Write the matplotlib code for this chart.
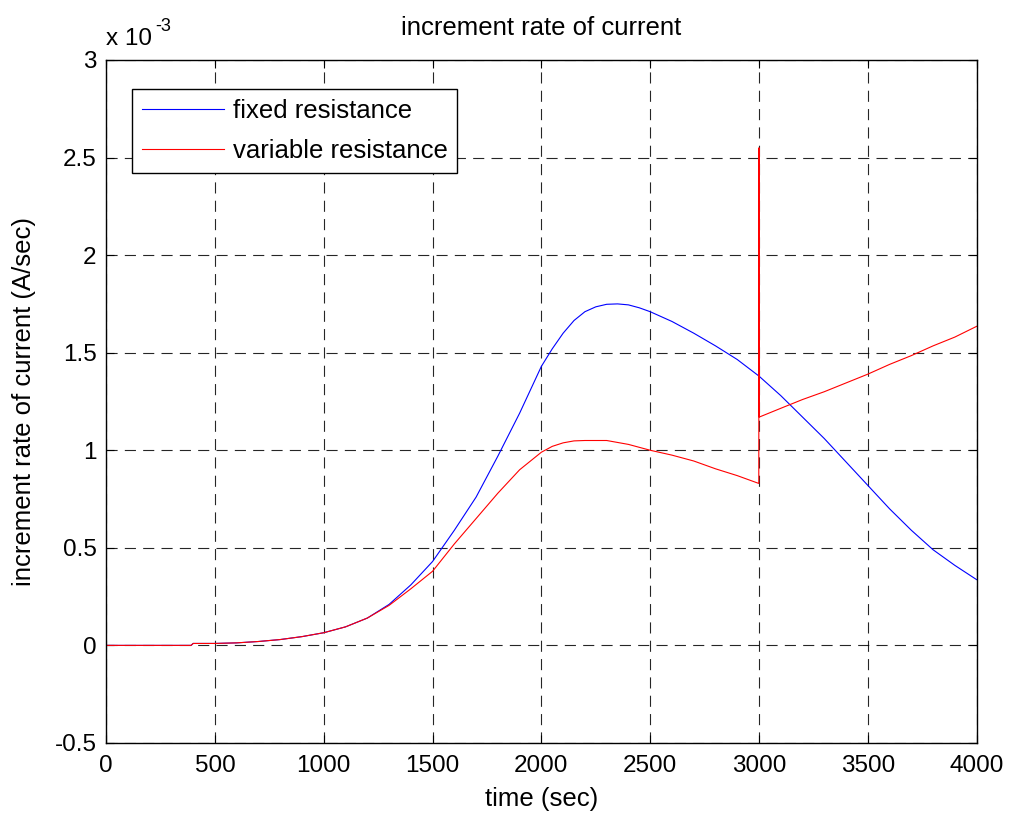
import matplotlib
matplotlib.use("Agg")
import matplotlib.pyplot as plt
import numpy as np

plt.rcParams['font.family'] = ['Liberation Sans', 'DejaVu Sans']

# time axis (sec)
t_fixed = [0, 100, 200, 300, 390, 400, 500, 600, 700, 800, 900, 1000, 1100, 1200, 1300,
           1400, 1500, 1600, 1700, 1800, 1900, 2000, 2050, 2100, 2150, 2200, 2250, 2300,
           2350, 2400, 2450, 2500, 2600, 2700, 2800, 2900, 3000, 3100, 3200, 3300, 3400,
           3500, 3600, 3700, 3800, 3900, 4000]
# increment rate (x 1e-3 A/sec)
fixed_res = [0, 0, 0, 0, 0, 0.01, 0.01, 0.013, 0.02, 0.03, 0.045, 0.065, 0.095, 0.14, 0.21,
             0.31, 0.43, 0.59, 0.76, 0.97, 1.19, 1.43, 1.52, 1.60, 1.665, 1.71, 1.735, 1.748,
             1.75, 1.745, 1.73, 1.71, 1.66, 1.60, 1.535, 1.465, 1.38, 1.28, 1.17, 1.06, 0.94,
             0.82, 0.70, 0.59, 0.49, 0.41, 0.337]

t_var = [0, 100, 200, 300, 390, 400, 500, 600, 700, 800, 900, 1000, 1100, 1200, 1300,
         1400, 1500, 1600, 1700, 1800, 1900, 2000, 2050, 2100, 2150, 2200, 2300, 2400, 2500,
         2600, 2700, 2800, 2900, 2999, 3000, 3001, 3100, 3200, 3300, 3400, 3500, 3600, 3700,
         3800, 3900, 4000]
var_res = [0, 0, 0, 0, 0, 0.01, 0.01, 0.013, 0.02, 0.03, 0.045, 0.065, 0.095, 0.14, 0.205,
           0.29, 0.38, 0.52, 0.65, 0.78, 0.90, 0.99, 1.02, 1.038, 1.048, 1.05, 1.05, 1.03, 1.00,
           0.975, 0.945, 0.905, 0.87, 0.83, 2.55, 1.17, 1.215, 1.26, 1.30, 1.345, 1.39, 1.44,
           1.485, 1.535, 1.58, 1.635]

x_ticks = [0, 500, 1000, 1500, 2000, 2500, 3000, 3500, 4000]
y_ticks = [-0.5, 0, 0.5, 1, 1.5, 2, 2.5, 3]
y_tick_labels = ['-0.5', '0', '0.5', '1', '1.5', '2', '2.5', '3']

fig = plt.figure(figsize=(10.11, 8.16), dpi=100)
ax = fig.add_axes([0.105, 0.0895, 0.861, 0.837])

ax.plot(t_fixed, fixed_res, color=(0, 0, 1), lw=0.8, label='fixed resistance')
ax.plot(t_var, var_res, color=(1, 0, 0), lw=0.8, label='variable resistance')

ax.set_xlim(0, 4000)
ax.set_ylim(-0.5, 3)
ax.set_xticks(x_ticks)
ax.set_xticklabels([str(v) for v in x_ticks])
ax.set_yticks(y_ticks)
ax.set_yticklabels(y_tick_labels)

ax.tick_params(direction='in', length=6, width=0.8, top=True, right=True,
               labelsize=17.5, pad=7)
ax.tick_params(axis='x', pad=9)
for s in ax.spines.values():
    s.set_linewidth(1.0)

ax.grid(True, color='k', linestyle=(0, (10, 6.5)), linewidth=0.8, alpha=0.85)

ax.set_title('increment rate of current', fontsize=18.5, pad=18)
ax.set_xlabel('time (sec)', fontsize=18.5, labelpad=7)
ax.set_ylabel('increment rate of current (A/sec)', fontsize=18.5, labelpad=13)

ax.text(0.0, 1.022, 'x 10', transform=ax.transAxes, fontsize=17.5, ha='left', va='baseline')
ax.text(0.056, 1.042, '-3', transform=ax.transAxes, fontsize=13, ha='left', va='baseline')

leg = ax.legend(loc='upper left', bbox_to_anchor=(0.0295, 0.957), borderaxespad=0,
                fontsize=18.5, handlelength=3.2, handletextpad=0.35, labelspacing=0.62,
                borderpad=0.38, fancybox=False, framealpha=1, edgecolor='k')
leg.get_frame().set_linewidth(1.0)

fig.savefig('out.png', dpi=100)
